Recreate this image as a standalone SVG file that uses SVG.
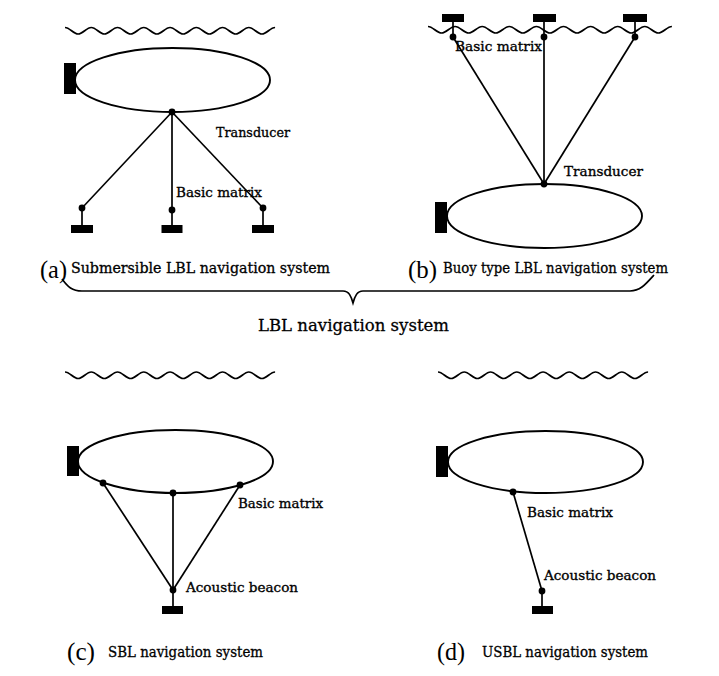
<svg xmlns="http://www.w3.org/2000/svg" xmlns:xlink="http://www.w3.org/1999/xlink" width="719" height="676" viewBox="0 0 719 676">
<style>
.bg{fill:#fff}
.ln{fill:none;stroke:#000;stroke-width:1.7}
.wv{fill:none;stroke:#000;stroke-width:1.7}
.ell{fill:none;stroke:#000;stroke-width:1.9}
.blk{fill:#000}
.t{font-family:"DejaVu Serif","Liberation Serif",serif;font-size:13.5px;fill:#000;stroke:#000;stroke-width:0.35}
.cap{font-family:"DejaVu Serif","Liberation Serif",serif;font-size:14px;fill:#000;stroke:#000;stroke-width:0.3}
.par{font-family:"Liberation Serif","DejaVu Serif",serif;font-size:25px;fill:#000}
.big{font-family:"DejaVu Serif","Liberation Serif",serif;font-size:17px;fill:#000;stroke:#000;stroke-width:0.3}
</style>
<defs>
<path id="wave8" d="M0,0 c4.78,0 8.35,6.5 13.13,6.5 s8.35,-6.5 13.13,-6.5 s8.35,6.5 13.13,6.5 s8.35,-6.5 13.13,-6.5 s8.35,6.5 13.13,6.5 s8.35,-6.5 13.13,-6.5 s8.35,6.5 13.13,6.5 s8.35,-6.5 13.13,-6.5 s8.35,6.5 13.13,6.5 s8.35,-6.5 13.13,-6.5 s8.35,6.5 13.13,6.5 s8.35,-6.5 13.13,-6.5 s8.35,6.5 13.13,6.5 s8.35,-6.5 13.13,-6.5 s8.35,6.5 13.13,6.5 s8.35,-6.5 13.13,-6.5"/>
<path id="wave9" d="M0,0 c4.93,0 8.62,6.5 13.55,6.5 s8.62,-6.5 13.55,-6.5 s8.62,6.5 13.55,6.5 s8.62,-6.5 13.55,-6.5 s8.62,6.5 13.55,6.5 s8.62,-6.5 13.55,-6.5 s8.62,6.5 13.55,6.5 s8.62,-6.5 13.55,-6.5 s8.62,6.5 13.55,6.5 s8.62,-6.5 13.55,-6.5 s8.62,6.5 13.55,6.5 s8.62,-6.5 13.55,-6.5 s8.62,6.5 13.55,6.5 s8.62,-6.5 13.55,-6.5 s8.62,6.5 13.55,6.5 s8.62,-6.5 13.55,-6.5 s8.62,6.5 13.55,6.5 s8.62,-6.5 13.55,-6.5"/>
</defs>
<rect class="bg" x="0" y="0" width="719" height="676"/>

<!-- Surfaces -->
<g id="surfaces">
<use xlink:href="#wave8" href="#wave8" class="wv" transform="translate(65,27.5)"/>
<use xlink:href="#wave9" href="#wave9" class="wv" transform="translate(428,26.5)"/>
<use xlink:href="#wave8" href="#wave8" class="wv" transform="translate(65,372)"/>
<use xlink:href="#wave8" href="#wave8" class="wv" transform="translate(438,372)"/>
</g>

<!-- Connectors -->
<g id="connectors">
<!-- (a) -->
<line class="ln" x1="172" y1="112" x2="82" y2="208"/>
<line class="ln" x1="172" y1="112" x2="172" y2="210"/>
<line class="ln" x1="172" y1="112" x2="263" y2="208"/>
<line class="ln" x1="82" y1="208" x2="82" y2="226"/>
<line class="ln" x1="172" y1="210" x2="172" y2="226"/>
<line class="ln" x1="263" y1="208" x2="263" y2="226"/>
<!-- (b) -->
<line class="ln" x1="453" y1="37" x2="544" y2="184"/>
<line class="ln" x1="544" y1="37" x2="544" y2="184"/>
<line class="ln" x1="635" y1="37" x2="544" y2="184"/>
<line class="ln" x1="453" y1="21" x2="453" y2="37"/>
<line class="ln" x1="544" y1="21" x2="544" y2="37"/>
<line class="ln" x1="635" y1="21" x2="635" y2="37"/>
<!-- (c) -->
<line class="ln" x1="103" y1="483" x2="173" y2="590"/>
<line class="ln" x1="173" y1="493" x2="173" y2="590"/>
<line class="ln" x1="240" y1="485" x2="173" y2="590"/>
<line class="ln" x1="173" y1="590" x2="173" y2="607"/>
<!-- (d) -->
<line class="ln" x1="513" y1="492" x2="542" y2="591"/>
<line class="ln" x1="542" y1="591" x2="542" y2="607"/>
<!-- brace -->
<path class="ln" d="M62,279 C68,287 72,291 82,291 L343,291 C349,291 351,296 353,303 C355,296 357,291 363,291 L630,291 C640,291 645,285 654,275"/>
</g>

<!-- Panel (a) -->
<g id="a-vehicle">
<ellipse class="ell" cx="172.5" cy="80" rx="97.5" ry="32"/>
<rect class="blk" x="64" y="63" width="12" height="31"/>
</g>
<g id="a-transducer">
<circle class="blk" cx="172" cy="112" r="3.4"/>
<text class="t" x="216" y="137" textLength="74" lengthAdjust="spacingAndGlyphs">Transducer</text>
</g>
<g id="a-matrix">
<circle class="blk" cx="82" cy="208" r="3.4"/>
<circle class="blk" cx="172" cy="210" r="3.4"/>
<circle class="blk" cx="263" cy="208" r="3.4"/>
<rect class="blk" x="71" y="225" width="22" height="8"/>
<rect class="blk" x="161.5" y="225" width="21" height="8"/>
<rect class="blk" x="252" y="225" width="22" height="8"/>
<text class="t" x="176" y="197" textLength="86" lengthAdjust="spacingAndGlyphs">Basic matrix</text>
</g>
<g id="a-caption">
<text class="par" x="40" y="278" textLength="27" lengthAdjust="spacingAndGlyphs">(a)</text>
<text class="cap" x="71" y="273" textLength="259" lengthAdjust="spacingAndGlyphs">Submersible LBL navigation system</text>
</g>

<!-- Panel (b) -->
<g id="b-vehicle">
<ellipse class="ell" cx="544.5" cy="216" rx="97.5" ry="32"/>
<rect class="blk" x="435" y="202" width="12" height="31"/>
</g>
<g id="b-transducer">
<circle class="blk" cx="544" cy="184" r="3.4"/>
<text class="t" x="564" y="176" textLength="79" lengthAdjust="spacingAndGlyphs">Transducer</text>
</g>
<g id="b-matrix">
<rect class="blk" x="442" y="14" width="22" height="8"/>
<rect class="blk" x="533" y="14" width="23" height="8"/>
<rect class="blk" x="623" y="14" width="24" height="8"/>
<circle class="blk" cx="453" cy="37" r="3.4"/>
<circle class="blk" cx="544" cy="37" r="3.4"/>
<circle class="blk" cx="635" cy="37" r="3.4"/>
<text class="t" x="455" y="51" textLength="87" lengthAdjust="spacingAndGlyphs">Basic matrix</text>
</g>
<g id="b-caption">
<text class="par" x="408" y="278" textLength="29" lengthAdjust="spacingAndGlyphs">(b)</text>
<text class="cap" x="443" y="273" textLength="225" lengthAdjust="spacingAndGlyphs">Buoy type LBL navigation system</text>
</g>

<g id="lbl-label">
<text class="big" x="258" y="331" textLength="191" lengthAdjust="spacingAndGlyphs">LBL navigation system</text>
</g>

<!-- Panel (c) -->
<g id="c-vehicle">
<ellipse class="ell" cx="175.5" cy="461.5" rx="97.5" ry="31.5"/>
<rect class="blk" x="67" y="446" width="12" height="30"/>
</g>
<g id="c-matrix">
<circle class="blk" cx="103" cy="483" r="3.4"/>
<circle class="blk" cx="173" cy="493" r="3.4"/>
<circle class="blk" cx="240" cy="485" r="3.4"/>
<text class="t" x="238" y="508" textLength="85" lengthAdjust="spacingAndGlyphs">Basic matrix</text>
</g>
<g id="c-beacon">
<circle class="blk" cx="173" cy="590" r="3.4"/>
<rect class="blk" x="162" y="606" width="21" height="8"/>
<text class="t" x="186" y="592" textLength="112" lengthAdjust="spacingAndGlyphs">Acoustic beacon</text>
</g>
<g id="c-caption">
<text class="par" x="67" y="660" textLength="28" lengthAdjust="spacingAndGlyphs">(c)</text>
<text class="cap" x="108" y="657" textLength="155" lengthAdjust="spacingAndGlyphs">SBL navigation system</text>
</g>

<!-- Panel (d) -->
<g id="d-vehicle">
<ellipse class="ell" cx="545.5" cy="462" rx="97.5" ry="31"/>
<rect class="blk" x="436" y="446" width="12" height="31"/>
</g>
<g id="d-matrix">
<circle class="blk" cx="513" cy="492" r="3.4"/>
<text class="t" x="527" y="517" textLength="86" lengthAdjust="spacingAndGlyphs">Basic matrix</text>
</g>
<g id="d-beacon">
<circle class="blk" cx="542" cy="591" r="3.4"/>
<rect class="blk" x="532" y="606" width="21" height="8"/>
<text class="t" x="544" y="580" textLength="112" lengthAdjust="spacingAndGlyphs">Acoustic beacon</text>
</g>
<g id="d-caption">
<text class="par" x="437" y="660" textLength="28" lengthAdjust="spacingAndGlyphs">(d)</text>
<text class="cap" x="482" y="657" textLength="166" lengthAdjust="spacingAndGlyphs">USBL navigation system</text>
</g>
</svg>
